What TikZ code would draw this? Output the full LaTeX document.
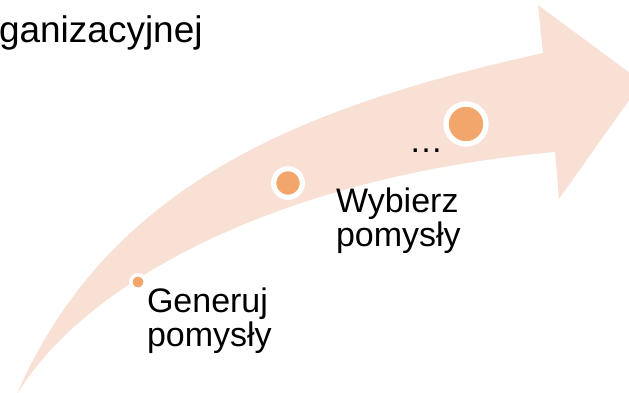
\documentclass[tikz,border=0pt]{standalone}
\usepackage{fontspec}
\setmainfont{Liberation Sans}
\definecolor{bandpink}{RGB}{249,224,212}
\definecolor{dotorange}{RGB}{242,166,108}
\begin{document}
\begin{tikzpicture}[x=1pt,y=-1pt,
  lbl/.style={anchor=base west, inner sep=0pt, outer sep=0pt, font=\fontsize{34}{34}\selectfont},
  dotnode/.style={circle, fill=dotorange, draw=white, inner sep=0pt, outer sep=0pt}]
\useasboundingbox (0,0) rectangle (629,393);
\clip (0,0) rectangle (629,393);
% curved arrow band
\coordinate (tail) at (16,396);
\coordinate (un) at (543,53);
\coordinate (ht) at (538,5);
\coordinate (tip) at (642,82);
\coordinate (hb) at (559,199);
\coordinate (ln) at (555,152);
\fill[bandpink] (tail) .. controls (107,185) and (299,107) .. (un)
  -- (ht) -- (tip) -- (hb) -- (ln)
  .. controls (276,177) and (82,284) .. (tail) -- cycle;
% dots
\node[dotnode, minimum size=14.4pt, line width=3.5pt] (d1) at (138,282) {};
\node[dotnode, minimum size=28.6pt, line width=5.2pt] (d2) at (288,183) {};
\node[dotnode, minimum size=40pt, line width=5.4pt] (d3) at (466,124) {};
% texts
\node[lbl, font=\fontsize{37}{37}\selectfont] (t0) at (-1,43) {ganizacyjnej};
\node[lbl] (t1a) at (147,312) {Generuj};
\node[lbl] (t1b) at (147,346) {pomysły};
\node[lbl] (t2a) at (336,212) {Wybierz};
\node[lbl] (t2b) at (336,246) {pomysły};
\node[lbl] (t3) at (409,153) {…};
\end{tikzpicture}
\end{document}
